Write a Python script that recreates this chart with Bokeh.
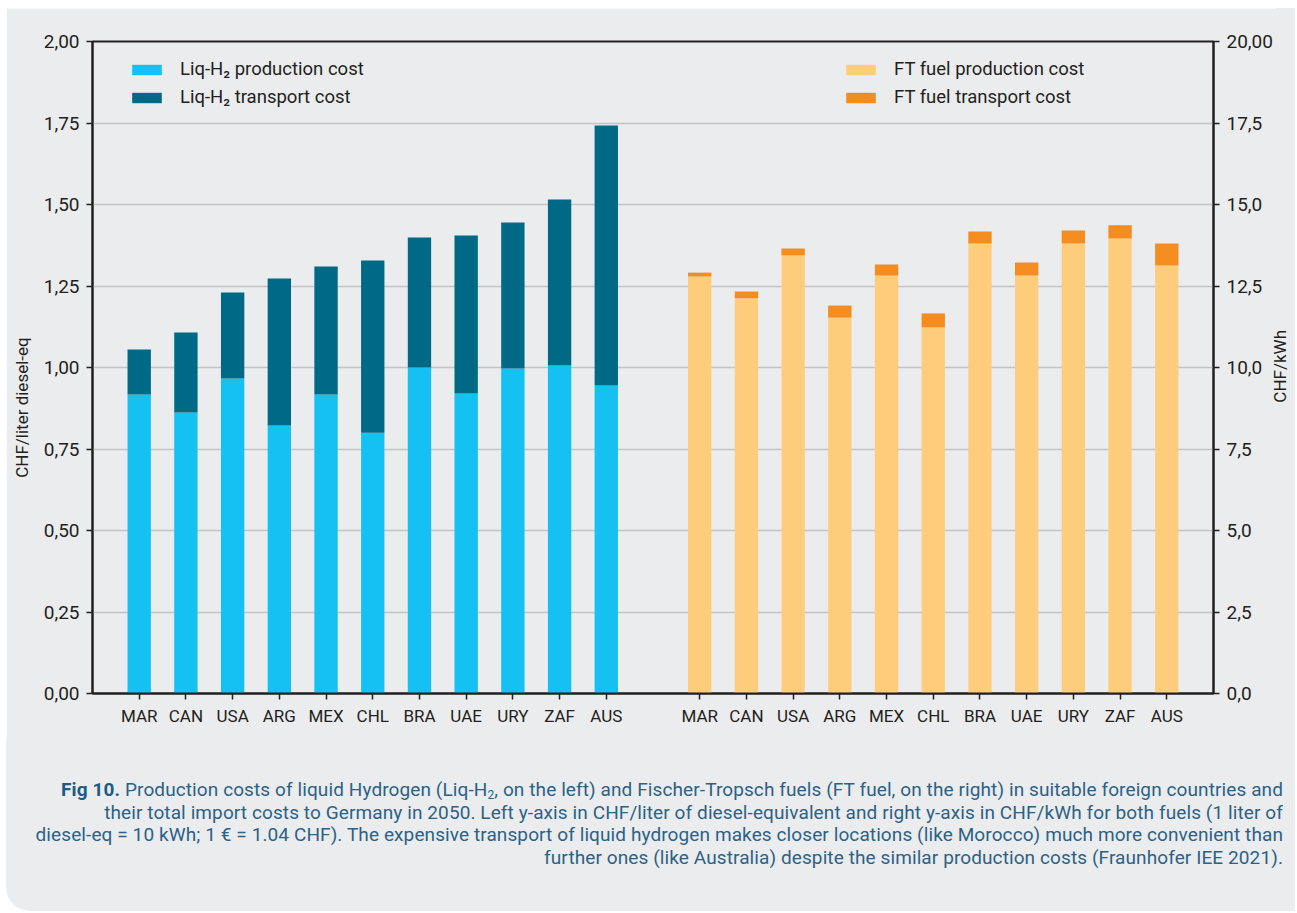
from bokeh.plotting import figure
from bokeh.models import (Range1d, LinearAxis, FixedTicker, CustomJSTickFormatter,
                          Legend, LegendItem, ColumnDataSource, Div)
from bokeh.layouts import column, row
from bokeh.embed import file_html
from bokeh.resources import INLINE

# ---------------- data ----------------
countries = ["MAR", "CAN", "USA", "ARG", "MEX", "CHL", "BRA", "UAE", "URY", "ZAF", "AUS"]
h2_production = [0.917, 0.862, 0.966, 0.822, 0.917, 0.800, 1.000, 0.920, 0.997, 1.006, 0.945]
h2_transport = [0.138, 0.245, 0.264, 0.451, 0.393, 0.528, 0.399, 0.485, 0.448, 0.509, 0.797]
ft_production = [12.79, 12.12, 13.44, 11.53, 12.82, 11.23, 13.80, 12.82, 13.80, 13.96, 13.13]
ft_transport = [0.12, 0.21, 0.21, 0.37, 0.34, 0.43, 0.37, 0.40, 0.40, 0.40, 0.67]
left_ticks = [0, 0.25, 0.5, 0.75, 1.0, 1.25, 1.5, 1.75, 2.0]
right_ticks = [0, 2.5, 5, 7.5, 10, 12.5, 15, 17.5, 20]

# ---------------- style ----------------
BG = "#ebecee"
INK = "#231f20"
FONT = "Roboto"
C_H2P, C_H2T = "#15c1f2", "#006985"
C_FTP, C_FTT = "#fecd7c", "#f58c20"

n = len(countries)
x_left = list(range(n))
x_right = [i + n + 1 for i in range(n)]

src_h2 = ColumnDataSource(dict(x=x_left, prod=h2_production, trans=h2_transport))
src_ft = ColumnDataSource(dict(x=x_right, prod=ft_production, trans=ft_transport))

p = figure(width=1270, height=732, x_range=Range1d(-1, 2 * n + 1), y_range=Range1d(0, 2),
           output_backend="svg", toolbar_location=None,
           min_border_left=86, min_border_right=63, min_border_top=33, min_border_bottom=47,
           background_fill_color=BG, border_fill_color=BG,
           outline_line_color=INK, outline_line_width=2, margin=0)
p.extra_y_ranges = {"ft": Range1d(0, 20)}

r_h2 = p.vbar_stack(["prod", "trans"], x="x", width=0.5, source=src_h2,
                    color=[C_H2P, C_H2T], line_width=0)
r_ft = p.vbar_stack(["prod", "trans"], x="x", width=0.5, source=src_ft,
                    color=[C_FTP, C_FTT], line_width=0, y_range_name="ft")

# axes
def style_axis(ax, size="19px"):
    ax.axis_line_color = INK
    ax.axis_line_width = 2
    ax.major_tick_line_color = INK
    ax.major_tick_line_width = 1.5
    ax.major_tick_out = 6
    ax.major_tick_in = 0
    ax.minor_tick_line_color = None
    ax.major_label_text_font = FONT
    ax.major_label_text_font_size = size
    ax.major_label_text_color = INK
    ax.axis_label_text_font = FONT
    ax.axis_label_text_font_size = "17px"
    ax.axis_label_text_font_style = "normal"
    ax.axis_label_text_color = INK

xa = p.xaxis[0]
xa.ticker = FixedTicker(ticks=x_left + x_right)
xa.major_label_overrides = {int(x): c for x, c in zip(x_left + x_right, countries + countries)}
style_axis(xa, "17px")
xa.major_label_standoff = 6

ya = p.yaxis[0]
ya.ticker = FixedTicker(ticks=left_ticks)
ya.formatter = CustomJSTickFormatter(code="return tick.toFixed(2).replace('.', ',');")
# trailing no-break spaces push the visible title a little lower, as in the original
ya.axis_label = "CHF/liter diesel-eq" + "\u00a0" * 19
style_axis(ya)
ya.major_label_standoff = 7
ya.axis_label_standoff = 9

ra = LinearAxis(y_range_name="ft", ticker=FixedTicker(ticks=right_ticks),
                formatter=CustomJSTickFormatter(
                    code="return tick == 20 ? '20,00' : tick.toFixed(1).replace('.', ',');"))
style_axis(ra)
ra.major_label_standoff = 7
p.add_layout(ra, "right")

p.xgrid.visible = False
p.ygrid.ticker = FixedTicker(ticks=left_ticks)
p.ygrid.grid_line_color = "#c3c3c5"
p.ygrid.grid_line_width = 1.5

# legends
LEG_H = 21 + 6 + 21
def make_legend(items, x_off):
    lg = Legend(items=items, location=(x_off, 652 - 19 - LEG_H), orientation="vertical",
                background_fill_alpha=0, border_line_color=None,
                padding=0, margin=0, spacing=6,
                glyph_width=37, glyph_height=13, label_height=13, label_standoff=15,
                label_text_font=FONT, label_text_font_size="18.5px", label_text_color=INK)
    p.add_layout(lg)
    return lg

make_legend([LegendItem(label="Liq-H\u2082 production cost", renderers=[r_h2[0]]),
             LegendItem(label="Liq-H\u2082 transport cost", renderers=[r_h2[1]])], 36)
make_legend([LegendItem(label="FT fuel production cost", renderers=[r_ft[0]]),
             LegendItem(label="FT fuel transport cost", renderers=[r_ft[1]])], 750)

# right-hand axis title, reading bottom-to-top as in the original
side_html = ("<div style=\"width:19px;height:732px;display:flex;align-items:center;"
             "justify-content:flex-start;\">"
             "<span style=\"writing-mode:vertical-rl;transform:translateX(-8px) rotate(180deg);"
             "font-family:Roboto;font-size:17px;color:#231f20;margin-bottom:16px;"
             "white-space:nowrap;\">CHF/kWh</span></div>")
side = Div(text=side_html, width=19, height=732, margin=0,
           styles={"background-color": BG})

sub2 = "<span style='font-size:12px;vertical-align:-3px;line-height:0'>2</span>"
caption_lines = [
    "<b style='color:#1b5b85'>Fig 10.</b> Production costs of liquid Hydrogen (Liq-H" + sub2 +
    ", on the left) and Fischer-Tropsch fuels (FT fuel, on the right) in suitable foreign countries and",
    "their total import costs to Germany in 2050. Left y-axis in CHF/liter of diesel-equivalent and right y-axis in CHF/kWh for both fuels (1 liter of",
    "diesel-eq = 10 kWh; 1 \u20ac = 1.04 CHF). The expensive transport of liquid hydrogen makes closer locations (like Morocco) much more convenient than",
    "further ones (like Australia) despite the similar production costs (Fraunhofer IEE 2021).",
]
html = ("<div style=\"width:1277px;box-sizing:border-box;padding-top:39px;text-align:right;"
        "white-space:nowrap;font-family:Roboto;font-size:19px;letter-spacing:0.1px;"
        "line-height:22.7px;color:#2b6286;\">"
        + "<br>".join(caption_lines) + "</div>")
cap = Div(text=html, width=1289, height=171, margin=0,
          styles={"background-color": BG, "border-bottom-left-radius": "24px"})

layout = column(row(p, side, spacing=0, margin=0), cap, spacing=0, margin=(8, 0, 0, 6))
open("out.html", "w").write(file_html(layout, INLINE))
